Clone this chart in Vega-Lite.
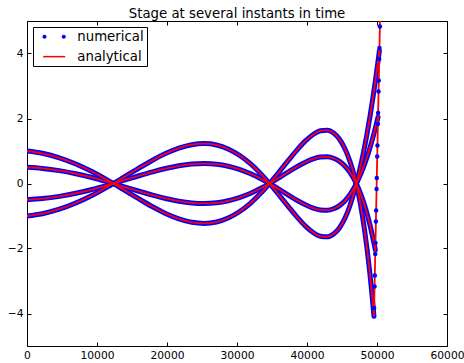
{
 "$schema": "https://vega.github.io/schema/vega-lite/v6.json",
 "width": 420, "height": 325,
 "autosize": {"type": "none"},
 "padding": {"left": 27, "top": 21, "right": 17, "bottom": 17},
 "title": {"text": "Stage at several instants in time", "font": "DejaVu Sans", "fontSize": 13.3, "fontWeight": "normal", "color": "#000", "offset": 4, "baseline": "alphabetic", "anchor": "middle", "dy": 15},
 "datasets": {
  "wet": [
   {"c":"a","x":49565,"y":-4.087},{"c":"a","x":49540,"y":-4.023},{"c":"a","x":49463,"y":-3.836},{"c":"a","x":49334,"y":-3.532},{"c":"a","x":49154,"y":-3.127},{"c":"a","x":48917,"y":-2.640},{"c":"a","x":48624,"y":-2.092},{"c":"a","x":48272,"y":-1.508},{"c":"a","x":47857,"y":-0.915},{"c":"a","x":47378,"y":-0.338},{"c":"a","x":46814,"y":0.198},{"c":"a","x":46154,"y":0.671},{"c":"a","x":45432,"y":1.063},{"c":"a","x":44648,"y":1.360},{"c":"a","x":43800,"y":1.553},{"c":"a","x":42889,"y":1.641},{"c":"a","x":41916,"y":1.623},{"c":"a","x":40880,"y":1.509},{"c":"a","x":39781,"y":1.310},{"c":"a","x":38620,"y":1.043},{"c":"a","x":37396,"y":0.726},{"c":"a","x":36108,"y":0.381},{"c":"a","x":34758,"y":0.028},{"c":"a","x":33346,"y":-0.311},{"c":"a","x":31870,"y":-0.616},{"c":"a","x":30332,"y":-0.868},{"c":"a","x":28731,"y":-1.063},{"c":"a","x":27067,"y":-1.185},{"c":"a","x":25340,"y":-1.227},{"c":"a","x":23551,"y":-1.193},{"c":"a","x":21699,"y":-1.088},{"c":"a","x":19784,"y":-0.920},{"c":"a","x":17806,"y":-0.702},{"c":"a","x":15765,"y":-0.445},{"c":"a","x":13662,"y":-0.171},{"c":"a","x":11496,"y":0.104},{"c":"a","x":9267,"y":0.369},{"c":"a","x":6975,"y":0.600},{"c":"a","x":4620,"y":0.791},{"c":"a","x":2204,"y":0.929},{"c":"a","x":0,"y":1.000},
   {"c":"b","x":49759,"y":-2.044},{"c":"b","x":49731,"y":-2.012},{"c":"b","x":49645,"y":-1.918},{"c":"b","x":49502,"y":-1.766},{"c":"b","x":49302,"y":-1.564},{"c":"b","x":49043,"y":-1.320},{"c":"b","x":48724,"y":-1.046},{"c":"b","x":48343,"y":-0.754},{"c":"b","x":47901,"y":-0.458},{"c":"b","x":47394,"y":-0.169},{"c":"b","x":46814,"y":0.099},{"c":"b","x":46154,"y":0.336},{"c":"b","x":45432,"y":0.532},{"c":"b","x":44648,"y":0.680},{"c":"b","x":43800,"y":0.777},{"c":"b","x":42889,"y":0.821},{"c":"b","x":41916,"y":0.812},{"c":"b","x":40880,"y":0.755},{"c":"b","x":39781,"y":0.655},{"c":"b","x":38620,"y":0.522},{"c":"b","x":37396,"y":0.363},{"c":"b","x":36108,"y":0.191},{"c":"b","x":34758,"y":0.014},{"c":"b","x":33346,"y":-0.156},{"c":"b","x":31870,"y":-0.308},{"c":"b","x":30332,"y":-0.434},{"c":"b","x":28731,"y":-0.532},{"c":"b","x":27067,"y":-0.593},{"c":"b","x":25340,"y":-0.614},{"c":"b","x":23551,"y":-0.597},{"c":"b","x":21699,"y":-0.544},{"c":"b","x":19784,"y":-0.460},{"c":"b","x":17806,"y":-0.351},{"c":"b","x":15765,"y":-0.223},{"c":"b","x":13662,"y":-0.086},{"c":"b","x":11496,"y":0.052},{"c":"b","x":9267,"y":0.185},{"c":"b","x":6975,"y":0.300},{"c":"b","x":4620,"y":0.396},{"c":"b","x":2204,"y":0.465},{"c":"b","x":0,"y":0.500},
   {"c":"c","x":50147,"y":2.044},{"c":"c","x":50113,"y":2.012},{"c":"c","x":50009,"y":1.918},{"c":"c","x":49838,"y":1.766},{"c":"c","x":49600,"y":1.564},{"c":"c","x":49293,"y":1.320},{"c":"c","x":48922,"y":1.046},{"c":"c","x":48487,"y":0.754},{"c":"c","x":47987,"y":0.458},{"c":"c","x":47426,"y":0.169},{"c":"c","x":46814,"y":-0.099},{"c":"c","x":46154,"y":-0.336},{"c":"c","x":45432,"y":-0.532},{"c":"c","x":44648,"y":-0.680},{"c":"c","x":43800,"y":-0.777},{"c":"c","x":42889,"y":-0.821},{"c":"c","x":41916,"y":-0.812},{"c":"c","x":40880,"y":-0.755},{"c":"c","x":39781,"y":-0.655},{"c":"c","x":38620,"y":-0.522},{"c":"c","x":37396,"y":-0.363},{"c":"c","x":36108,"y":-0.191},{"c":"c","x":34758,"y":-0.014},{"c":"c","x":33346,"y":0.156},{"c":"c","x":31870,"y":0.308},{"c":"c","x":30332,"y":0.434},{"c":"c","x":28731,"y":0.532},{"c":"c","x":27067,"y":0.593},{"c":"c","x":25340,"y":0.614},{"c":"c","x":23551,"y":0.597},{"c":"c","x":21699,"y":0.544},{"c":"c","x":19784,"y":0.460},{"c":"c","x":17806,"y":0.351},{"c":"c","x":15765,"y":0.223},{"c":"c","x":13662,"y":0.086},{"c":"c","x":11496,"y":-0.052},{"c":"c","x":9267,"y":-0.185},{"c":"c","x":6975,"y":-0.300},{"c":"c","x":4620,"y":-0.396},{"c":"c","x":2204,"y":-0.465},{"c":"c","x":0,"y":-0.500},
   {"c":"d","x":50341,"y":4.087},{"c":"d","x":50304,"y":4.023},{"c":"d","x":50191,"y":3.836},{"c":"d","x":50006,"y":3.532},{"c":"d","x":49748,"y":3.127},{"c":"d","x":49419,"y":2.640},{"c":"d","x":49022,"y":2.092},{"c":"d","x":48558,"y":1.508},{"c":"d","x":48031,"y":0.915},{"c":"d","x":47442,"y":0.338},{"c":"d","x":46814,"y":-0.198},{"c":"d","x":46154,"y":-0.671},{"c":"d","x":45432,"y":-1.063},{"c":"d","x":44648,"y":-1.360},{"c":"d","x":43800,"y":-1.553},{"c":"d","x":42889,"y":-1.641},{"c":"d","x":41916,"y":-1.623},{"c":"d","x":40880,"y":-1.509},{"c":"d","x":39781,"y":-1.310},{"c":"d","x":38620,"y":-1.043},{"c":"d","x":37396,"y":-0.726},{"c":"d","x":36108,"y":-0.381},{"c":"d","x":34758,"y":-0.028},{"c":"d","x":33346,"y":0.311},{"c":"d","x":31870,"y":0.616},{"c":"d","x":30332,"y":0.868},{"c":"d","x":28731,"y":1.063},{"c":"d","x":27067,"y":1.185},{"c":"d","x":25340,"y":1.227},{"c":"d","x":23551,"y":1.193},{"c":"d","x":21699,"y":1.088},{"c":"d","x":19784,"y":0.920},{"c":"d","x":17806,"y":0.702},{"c":"d","x":15765,"y":0.445},{"c":"d","x":13662,"y":0.171},{"c":"d","x":11496,"y":-0.104},{"c":"d","x":9267,"y":-0.369},{"c":"d","x":6975,"y":-0.600},{"c":"d","x":4620,"y":-0.791},{"c":"d","x":2204,"y":-0.929},{"c":"d","x":0,"y":-1.000}
  ],
  "bed": [
   {"x":49589,"y":-3.83},{"x":49652,"y":-3.17},{"x":49684,"y":-2.83},{"x":49747,"y":-2.17},{"x":49779,"y":-1.83},{"x":49842,"y":-1.17},{"x":49874,"y":-0.83},{"x":49937,"y":-0.17},{"x":49969,"y":0.17},{"x":50032,"y":0.83},{"x":50064,"y":1.17},{"x":50127,"y":1.83},{"x":50159,"y":2.17},{"x":50222,"y":2.83},{"x":50254,"y":3.17},{"x":50317,"y":3.83},{"x":50349,"y":4.17},{"x":50412,"y":4.83}
  ],
  "bedline": [
   {"x":49565,"y":-4.087},{"x":50476,"y":5.5}
  ]
 },
 "layer": [
  {
   "data": {"name": "wet"},
   "mark": {"type": "line", "strokeWidth": 5, "strokeCap": "round", "strokeJoin": "round", "interpolate": "monotone", "clip": true},
   "encoding": {
    "x": {"field": "x", "type": "quantitative", "scale": {"domain": [0, 60000], "nice": false, "zero": false},
          "axis": {"orient": "bottom", "values": [0,10000,20000,30000,40000,50000,60000], "format": "d", "title": null, "grid": false, "domain": false, "ticks": true, "tickSize": -4, "tickColor": "#000", "tickWidth": 1, "labelFont": "DejaVu Sans", "labelFontSize": 10.7, "labelColor": "#000", "labelPadding": 8, "labelFlush": false, "labelOverlap": false}},
    "y": {"field": "y", "type": "quantitative", "scale": {"domain": [-5, 5], "nice": false, "zero": false},
          "axis": {"orient": "left", "values": [-4,-2,0,2,4], "format": "d", "title": null, "grid": false, "domain": false, "ticks": true, "tickSize": -4, "tickColor": "#000", "tickWidth": 1, "labelFont": "DejaVu Sans", "labelFontSize": 10.7, "labelColor": "#000", "labelPadding": 8, "labelFlush": false, "labelOverlap": false}},
    "detail": {"field": "c"},
    "color": {"datum": "numerical",
      "scale": {"domain": ["numerical", "analytical"], "range": ["#0000ff", "#ff0000"]},
      "legend": {"orient": "top-left", "direction": "vertical", "offset": 6, "title": null, "padding": 3, "rowPadding": 6,
        "strokeColor": "#000", "fillColor": "#fff", "cornerRadius": 0,
        "labelFont": "DejaVu Sans", "labelFontSize": 13.3, "labelColor": "#000", "labelOffset": 28,
        "symbolSize": 100,
        "symbolStrokeWidth": {"expr": "datum.value === 'numerical' ? 0 : 1.5"},
        "symbolType": {"expr": "datum.value === 'numerical' ? 'M-0.03,0a0.4,0.4 0 1,0 0.8,0a0.4,0.4 0 1,0 -0.8,0ZM3.83,0a0.4,0.4 0 1,0 0.8,0a0.4,0.4 0 1,0 -0.8,0Z' : 'M0.1,0H4.5'"}}}
   }
  },
  {
   "data": {"name": "wet"},
   "mark": {"type": "line", "strokeWidth": 1.8, "interpolate": "monotone", "clip": true},
   "encoding": {
    "x": {"field": "x", "type": "quantitative", "axis": null},
    "y": {"field": "y", "type": "quantitative", "axis": null},
    "detail": {"field": "c"},
    "color": {"datum": "analytical"}
   }
  },
  {
   "data": {"name": "bedline"},
   "mark": {"type": "line", "strokeWidth": 1.8, "clip": true},
   "encoding": {
    "x": {"field": "x", "type": "quantitative", "axis": null},
    "y": {"field": "y", "type": "quantitative", "axis": null},
    "color": {"datum": "analytical"}
   }
  },
  {
   "data": {"name": "bed"},
   "mark": {"type": "point", "filled": true, "size": 20, "opacity": 1, "clip": true},
   "encoding": {
    "x": {"field": "x", "type": "quantitative",
          "axis": {"orient": "top", "values": [0,10000,20000,30000,40000,50000,60000], "labels": false, "title": null, "grid": false, "domain": false, "ticks": true, "tickSize": -4, "tickColor": "#000", "tickWidth": 1}},
    "y": {"field": "y", "type": "quantitative",
          "axis": {"orient": "right", "values": [-4,-2,0,2,4], "labels": false, "title": null, "grid": false, "domain": false, "ticks": true, "tickSize": -4, "tickColor": "#000", "tickWidth": 1}},
    "color": {"datum": "numerical"}
   }
  }
 ],
 "resolve": {"axis": {"x": "independent", "y": "independent"}},
 "config": {"view": {"stroke": "#000", "strokeWidth": 1}, "font": "DejaVu Sans"}
}
